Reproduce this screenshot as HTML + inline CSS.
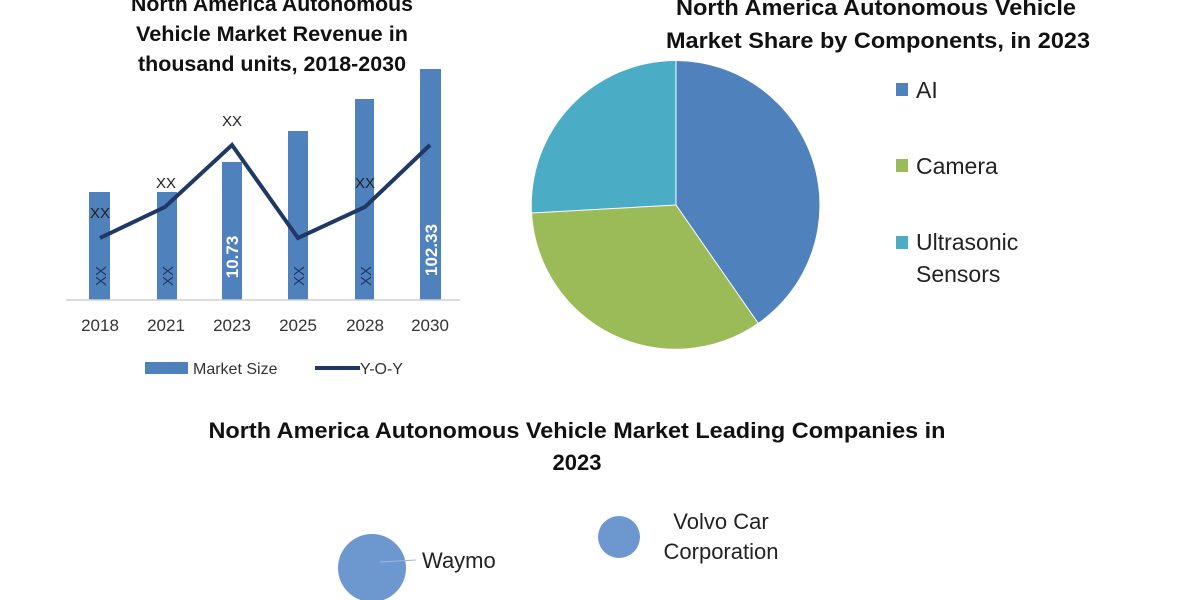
<!DOCTYPE html>
<html><head><style>
body{margin:0;background:#fff;}
svg{display:block;}
</style></head><body>
<svg width="1200" height="600" xmlns="http://www.w3.org/2000/svg" font-family="Liberation Sans, sans-serif">
<g font-weight="bold" fill="#111" text-anchor="middle">
<text x="272" y="11" font-size="21" textLength="282" lengthAdjust="spacingAndGlyphs">North America Autonomous</text>
<text x="272" y="41" font-size="21" textLength="272" lengthAdjust="spacingAndGlyphs">Vehicle Market Revenue in</text>
<text x="272" y="71" font-size="21" textLength="268" lengthAdjust="spacingAndGlyphs">thousand units, 2018-2030</text>
<text x="876" y="15" font-size="22" textLength="400" lengthAdjust="spacingAndGlyphs">North America Autonomous Vehicle</text>
<text x="878" y="48" font-size="22" textLength="424" lengthAdjust="spacingAndGlyphs">Market Share by Components, in 2023</text>
<text x="577" y="438" font-size="22" textLength="737" lengthAdjust="spacingAndGlyphs">North America Autonomous Vehicle Market Leading Companies in</text>
<text x="577" y="470" font-size="22">2023</text>
</g>
<g fill="#4f81bd">
<rect x="89" y="192" width="21" height="108"/>
<rect x="157" y="192" width="20" height="108"/>
<rect x="222" y="162" width="20" height="138"/>
<rect x="288" y="131" width="20" height="169"/>
<rect x="355" y="99" width="19" height="201"/>
<rect x="420" y="69" width="21" height="231"/>
</g>
<line x1="66" y1="300" x2="460" y2="300" stroke="#d0d0d0" stroke-width="1.5"/>
<polyline points="100,238 165,207 232,145 298,238 365,207 430,145" fill="none" stroke="#1f3864" stroke-width="4"/>
<g font-size="15" fill="#222" text-anchor="middle">
<text x="100" y="218">XX</text><text x="166" y="188">XX</text><text x="232" y="126">XX</text><text x="365" y="188">XX</text>
<text transform="translate(106,276) rotate(-90)" fill="#1f3864">XX</text>
<text transform="translate(173,276) rotate(-90)" fill="#1f3864">XX</text>
<text transform="translate(304,276) rotate(-90)" fill="#1f3864">XX</text>
<text transform="translate(371,276) rotate(-90)" fill="#1f3864">XX</text>
<text transform="translate(238,257) rotate(-90)" fill="#fff" font-weight="bold" font-size="17">10.73</text>
<text transform="translate(437,250) rotate(-90)" fill="#fff" font-weight="bold" font-size="17">102.33</text>
</g>
<g font-size="17" fill="#333" text-anchor="middle">
<text x="100" y="331">2018</text><text x="166" y="331">2021</text><text x="232" y="331">2023</text><text x="298" y="331">2025</text><text x="365" y="331">2028</text><text x="430" y="331">2030</text>
</g>
<rect x="145" y="362" width="43" height="12" fill="#4f81bd"/>
<text x="193" y="374" font-size="16" fill="#333">Market Size</text>
<line x1="315" y1="368" x2="360" y2="368" stroke="#1f3864" stroke-width="4"/>
<text x="360" y="374" font-size="16" fill="#333">Y-O-Y</text>
<path d="M676,205 L676,61 A144,144 0 0 1 758,323 Z" fill="#4f81bd"/>
<path d="M676,205 L758,323 A144,144 0 0 1 532,213 Z" fill="#9bbb59"/>
<path d="M676,205 L532,213 A144,144 0 0 1 676,61 Z" fill="#4bacc6"/>
<g stroke="#fff" stroke-width="1"><line x1="676" y1="205" x2="676" y2="61"/><line x1="676" y1="205" x2="758" y2="323"/><line x1="676" y1="205" x2="532" y2="213"/></g>
<rect x="896" y="83" width="12" height="13" fill="#4f81bd"/>
<rect x="896" y="159" width="12" height="13" fill="#9bbb59"/>
<rect x="896" y="236" width="12" height="13" fill="#4bacc6"/>
<g font-size="23" fill="#222">
<text x="916" y="98">AI</text><text x="916" y="174">Camera</text><text x="916" y="250">Ultrasonic</text><text x="916" y="282">Sensors</text>
</g>
<circle cx="372" cy="568" r="34" fill="#6d97cf"/>
<line x1="380" y1="562" x2="416" y2="560" stroke="#9fb8dd" stroke-width="1"/>
<circle cx="619" cy="537" r="21" fill="#6d97cf"/>
<g font-size="22" fill="#222">
<text x="422" y="568">Waymo</text>
<text x="721" y="529" text-anchor="middle">Volvo Car</text>
<text x="721" y="559" text-anchor="middle">Corporation</text>
</g>
</svg>
</body></html>
